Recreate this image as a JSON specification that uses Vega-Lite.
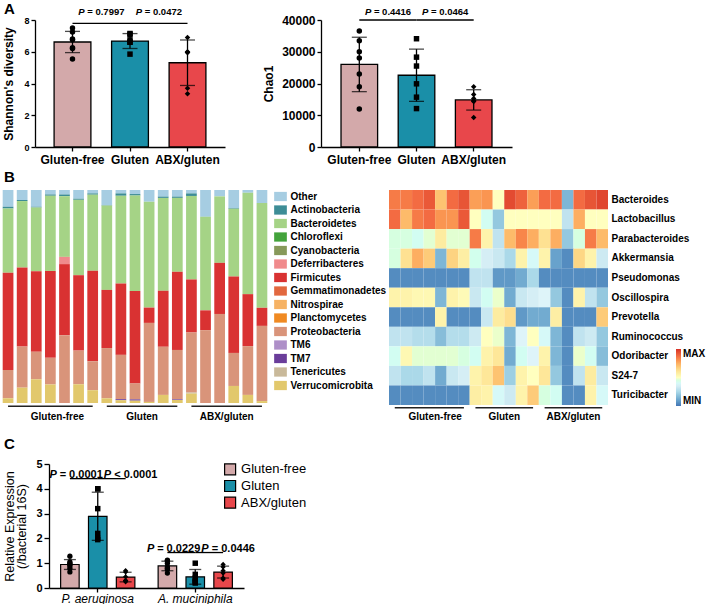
{
"$schema": "https://vega.github.io/schema/vega-lite/v6.json",
"background": "white",
"padding": {"left": 1, "top": 2, "right": 0, "bottom": 0},
"config": {
  "font": "Liberation Sans",
  "view": {"stroke": null},
  "axis": {"grid": false, "domainColor": "#000", "domainWidth": 1.3, "tickColor": "#000", "tickWidth": 1.3, "labelColor": "#000", "titleColor": "#000", "labelFontWeight": "bold", "titleFontWeight": "bold", "labelOverlap": false},
  "legend": {"labelColor": "#000"},
  "title": {"fontSize": 15, "fontWeight": "bold", "anchor": "start", "color": "#000", "frame": "bounds"},
  "text": {"color": "#000"}
},
"datasets": {
  "shannon": [
    {"group": "Gluten-free", "value": 7.5}, {"group": "Gluten-free", "value": 7.25}, {"group": "Gluten-free", "value": 6.8}, {"group": "Gluten-free", "value": 6.75}, {"group": "Gluten-free", "value": 6.25}, {"group": "Gluten-free", "value": 6.2}, {"group": "Gluten-free", "value": 5.55},
    {"group": "Gluten", "value": 7.15}, {"group": "Gluten", "value": 7.1}, {"group": "Gluten", "value": 6.75}, {"group": "Gluten", "value": 6.6}, {"group": "Gluten", "value": 6.6}, {"group": "Gluten", "value": 5.85},
    {"group": "ABX/gluten", "value": 6.9}, {"group": "ABX/gluten", "value": 6.0}, {"group": "ABX/gluten", "value": 5.95}, {"group": "ABX/gluten", "value": 5.95}, {"group": "ABX/gluten", "value": 3.7}, {"group": "ABX/gluten", "value": 3.35}
  ],
  "chao": [
    {"group": "Gluten-free", "value": 36500}, {"group": "Gluten-free", "value": 33500}, {"group": "Gluten-free", "value": 30000}, {"group": "Gluten-free", "value": 28000}, {"group": "Gluten-free", "value": 23000}, {"group": "Gluten-free", "value": 19000}, {"group": "Gluten-free", "value": 12000},
    {"group": "Gluten", "value": 34100}, {"group": "Gluten", "value": 28300}, {"group": "Gluten", "value": 25500}, {"group": "Gluten", "value": 19900}, {"group": "Gluten", "value": 15700}, {"group": "Gluten", "value": 12100},
    {"group": "ABX/gluten", "value": 19000}, {"group": "ABX/gluten", "value": 16500}, {"group": "ABX/gluten", "value": 15300}, {"group": "ABX/gluten", "value": 14600}, {"group": "ABX/gluten", "value": 14300}, {"group": "ABX/gluten", "value": 9300}
  ],
  "pvals": [
    {"panel": "shannon", "g1": "Gluten-free", "g2": "Gluten", "label": "= 0.7997"},
    {"panel": "shannon", "g1": "Gluten", "g2": "ABX/gluten", "label": "= 0.0472"},
    {"panel": "chao", "g1": "Gluten-free", "g2": "Gluten", "label": "= 0.4416"},
    {"panel": "chao", "g1": "Gluten", "g2": "ABX/gluten", "label": "= 0.0464"}
  ],
  "groupsC": [{"group": "Gluten-free"}, {"group": "Gluten"}, {"group": "ABX/gluten"}],
  "phylumOrder": [
    {"phylum": "Other", "rank": 1}, {"phylum": "Actinobacteria", "rank": 2}, {"phylum": "Bacteroidetes", "rank": 3}, {"phylum": "Chloroflexi", "rank": 4}, {"phylum": "Cyanobacteria", "rank": 5}, {"phylum": "Deferribacteres", "rank": 6}, {"phylum": "Firmicutes", "rank": 7}, {"phylum": "Gemmatimonadetes", "rank": 8}, {"phylum": "Nitrospirae", "rank": 9}, {"phylum": "Planctomycetes", "rank": 10}, {"phylum": "Proteobacteria", "rank": 11}, {"phylum": "TM6", "rank": 12}, {"phylum": "TM7", "rank": 13}, {"phylum": "Tenericutes", "rank": 14}, {"phylum": "Verrucomicrobita", "rank": 15}
  ],
  "phyla": [
    {"s": "S01", "phylum": "Other", "v": 7.9}, {"s": "S01", "phylum": "Actinobacteria", "v": 0.8}, {"s": "S01", "phylum": "Bacteroidetes", "v": 30.1}, {"s": "S01", "phylum": "Firmicutes", "v": 45.7}, {"s": "S01", "phylum": "Proteobacteria", "v": 13.3}, {"s": "S01", "phylum": "Verrucomicrobita", "v": 2.2},
    {"s": "S02", "phylum": "Other", "v": 4.7}, {"s": "S02", "phylum": "Actinobacteria", "v": 0.5}, {"s": "S02", "phylum": "Bacteroidetes", "v": 31.2}, {"s": "S02", "phylum": "Firmicutes", "v": 37.1}, {"s": "S02", "phylum": "Proteobacteria", "v": 19.3}, {"s": "S02", "phylum": "Verrucomicrobita", "v": 7.2},
    {"s": "S03", "phylum": "Other", "v": 7.9}, {"s": "S03", "phylum": "Actinobacteria", "v": 0.3}, {"s": "S03", "phylum": "Bacteroidetes", "v": 29.9}, {"s": "S03", "phylum": "Firmicutes", "v": 37.8}, {"s": "S03", "phylum": "Proteobacteria", "v": 13.0}, {"s": "S03", "phylum": "Verrucomicrobita", "v": 11.1},
    {"s": "S04", "phylum": "Other", "v": 2.1}, {"s": "S04", "phylum": "Actinobacteria", "v": 0.6}, {"s": "S04", "phylum": "Bacteroidetes", "v": 35.3}, {"s": "S04", "phylum": "Firmicutes", "v": 40.8}, {"s": "S04", "phylum": "Proteobacteria", "v": 12.5}, {"s": "S04", "phylum": "Verrucomicrobita", "v": 8.7},
    {"s": "S05", "phylum": "Other", "v": 2.1}, {"s": "S05", "phylum": "Actinobacteria", "v": 0.8}, {"s": "S05", "phylum": "Bacteroidetes", "v": 28.5}, {"s": "S05", "phylum": "Deferribacteres", "v": 3.4}, {"s": "S05", "phylum": "Firmicutes", "v": 33.4}, {"s": "S05", "phylum": "Proteobacteria", "v": 31.8},
    {"s": "S06", "phylum": "Other", "v": 4.1}, {"s": "S06", "phylum": "Actinobacteria", "v": 0.5}, {"s": "S06", "phylum": "Bacteroidetes", "v": 35.4}, {"s": "S06", "phylum": "Firmicutes", "v": 35.4}, {"s": "S06", "phylum": "Proteobacteria", "v": 15.8}, {"s": "S06", "phylum": "Verrucomicrobita", "v": 8.8},
    {"s": "S07", "phylum": "Other", "v": 1.6}, {"s": "S07", "phylum": "Actinobacteria", "v": 0.6}, {"s": "S07", "phylum": "Bacteroidetes", "v": 35.7}, {"s": "S07", "phylum": "Firmicutes", "v": 42.5}, {"s": "S07", "phylum": "Proteobacteria", "v": 13.6}, {"s": "S07", "phylum": "Verrucomicrobita", "v": 6.0},
    {"s": "S08", "phylum": "Other", "v": 7.1}, {"s": "S08", "phylum": "Actinobacteria", "v": 0.2}, {"s": "S08", "phylum": "Bacteroidetes", "v": 39.6}, {"s": "S08", "phylum": "Firmicutes", "v": 27.3}, {"s": "S08", "phylum": "Proteobacteria", "v": 23.6}, {"s": "S08", "phylum": "Verrucomicrobita", "v": 2.2},
    {"s": "S09", "phylum": "Other", "v": 1.6}, {"s": "S09", "phylum": "Actinobacteria", "v": 1.1}, {"s": "S09", "phylum": "Bacteroidetes", "v": 41.2}, {"s": "S09", "phylum": "Firmicutes", "v": 33.5}, {"s": "S09", "phylum": "Proteobacteria", "v": 20.8}, {"s": "S09", "phylum": "TM7", "v": 0.5}, {"s": "S09", "phylum": "Verrucomicrobita", "v": 1.3},
    {"s": "S10", "phylum": "Other", "v": 1.9}, {"s": "S10", "phylum": "Actinobacteria", "v": 0.7}, {"s": "S10", "phylum": "Bacteroidetes", "v": 44.8}, {"s": "S10", "phylum": "Firmicutes", "v": 43.4}, {"s": "S10", "phylum": "Proteobacteria", "v": 7.5}, {"s": "S10", "phylum": "TM7", "v": 0.6}, {"s": "S10", "phylum": "Verrucomicrobita", "v": 1.1},
    {"s": "S11", "phylum": "Other", "v": 5.5}, {"s": "S11", "phylum": "Bacteroidetes", "v": 49.7}, {"s": "S11", "phylum": "Firmicutes", "v": 7.2}, {"s": "S11", "phylum": "Proteobacteria", "v": 37.1}, {"s": "S11", "phylum": "Verrucomicrobita", "v": 0.5},
    {"s": "S12", "phylum": "Other", "v": 3.1}, {"s": "S12", "phylum": "Actinobacteria", "v": 0.6}, {"s": "S12", "phylum": "Bacteroidetes", "v": 43.6}, {"s": "S12", "phylum": "Firmicutes", "v": 26.3}, {"s": "S12", "phylum": "Proteobacteria", "v": 22.6}, {"s": "S12", "phylum": "Verrucomicrobita", "v": 3.8},
    {"s": "S13", "phylum": "Other", "v": 3.1}, {"s": "S13", "phylum": "Actinobacteria", "v": 0.6}, {"s": "S13", "phylum": "Bacteroidetes", "v": 34.7}, {"s": "S13", "phylum": "Firmicutes", "v": 36.7}, {"s": "S13", "phylum": "Proteobacteria", "v": 23.2}, {"s": "S13", "phylum": "TM7", "v": 0.3}, {"s": "S13", "phylum": "Verrucomicrobita", "v": 1.4},
    {"s": "S14", "phylum": "Other", "v": 1.6}, {"s": "S14", "phylum": "Actinobacteria", "v": 1.2}, {"s": "S14", "phylum": "Bacteroidetes", "v": 39.2}, {"s": "S14", "phylum": "Firmicutes", "v": 24.9}, {"s": "S14", "phylum": "Proteobacteria", "v": 28.2}, {"s": "S14", "phylum": "Tenericutes", "v": 0.5}, {"s": "S14", "phylum": "Verrucomicrobita", "v": 4.4},
    {"s": "S15", "phylum": "Other", "v": 12.6}, {"s": "S15", "phylum": "Bacteroidetes", "v": 43.9}, {"s": "S15", "phylum": "Firmicutes", "v": 9.3}, {"s": "S15", "phylum": "Proteobacteria", "v": 34.2},
    {"s": "S16", "phylum": "Other", "v": 3.0}, {"s": "S16", "phylum": "Bacteroidetes", "v": 31.2}, {"s": "S16", "phylum": "Firmicutes", "v": 24.0}, {"s": "S16", "phylum": "Proteobacteria", "v": 41.8},
    {"s": "S17", "phylum": "Other", "v": 8.5}, {"s": "S17", "phylum": "Actinobacteria", "v": 0.3}, {"s": "S17", "phylum": "Bacteroidetes", "v": 31.8}, {"s": "S17", "phylum": "Firmicutes", "v": 35.9}, {"s": "S17", "phylum": "Proteobacteria", "v": 15.5}, {"s": "S17", "phylum": "Verrucomicrobita", "v": 8.0},
    {"s": "S18", "phylum": "Other", "v": 1.3}, {"s": "S18", "phylum": "Bacteroidetes", "v": 47.6}, {"s": "S18", "phylum": "Firmicutes", "v": 24.4}, {"s": "S18", "phylum": "Proteobacteria", "v": 22.9}, {"s": "S18", "phylum": "Verrucomicrobita", "v": 3.8},
    {"s": "S19", "phylum": "Other", "v": 6.1}, {"s": "S19", "phylum": "Bacteroidetes", "v": 49.2}, {"s": "S19", "phylum": "Firmicutes", "v": 8.5}, {"s": "S19", "phylum": "Proteobacteria", "v": 35.3}, {"s": "S19", "phylum": "Verrucomicrobita", "v": 0.9}
  ],
  "bgroups": [
    {"group": "Gluten-free", "first": "S01", "last": "S07", "mid": "S04"},
    {"group": "Gluten", "first": "S08", "last": "S13", "mid": "S10"},
    {"group": "ABX/gluten", "first": "S14", "last": "S19", "mid": "S16"}
  ],
  "heat": [
    {"g":"Bacteroides","s":"S01","z":0.85},{"g":"Bacteroides","s":"S02","z":0.85},{"g":"Bacteroides","s":"S03","z":0.88},{"g":"Bacteroides","s":"S04","z":0.92},{"g":"Bacteroides","s":"S05","z":0.70},{"g":"Bacteroides","s":"S06","z":0.88},{"g":"Bacteroides","s":"S07","z":0.93},{"g":"Bacteroides","s":"S08","z":0.78},{"g":"Bacteroides","s":"S09","z":0.80},{"g":"Bacteroides","s":"S10","z":0.50},{"g":"Bacteroides","s":"S11","z":0.95},{"g":"Bacteroides","s":"S12","z":0.90},{"g":"Bacteroides","s":"S13","z":0.78},{"g":"Bacteroides","s":"S14","z":0.88},{"g":"Bacteroides","s":"S15","z":0.88},{"g":"Bacteroides","s":"S16","z":0.15},{"g":"Bacteroides","s":"S17","z":0.88},{"g":"Bacteroides","s":"S18","z":0.93},{"g":"Bacteroides","s":"S19","z":0.96},
    {"g":"Lactobacillus","s":"S01","z":0.88},{"g":"Lactobacillus","s":"S02","z":0.72},{"g":"Lactobacillus","s":"S03","z":0.85},{"g":"Lactobacillus","s":"S04","z":0.88},{"g":"Lactobacillus","s":"S05","z":0.80},{"g":"Lactobacillus","s":"S06","z":0.80},{"g":"Lactobacillus","s":"S07","z":0.92},{"g":"Lactobacillus","s":"S08","z":0.50},{"g":"Lactobacillus","s":"S09","z":0.42},{"g":"Lactobacillus","s":"S10","z":0.20},{"g":"Lactobacillus","s":"S11","z":0.50},{"g":"Lactobacillus","s":"S12","z":0.50},{"g":"Lactobacillus","s":"S13","z":0.50},{"g":"Lactobacillus","s":"S14","z":0.50},{"g":"Lactobacillus","s":"S15","z":0.50},{"g":"Lactobacillus","s":"S16","z":0.30},{"g":"Lactobacillus","s":"S17","z":0.75},{"g":"Lactobacillus","s":"S18","z":0.50},{"g":"Lactobacillus","s":"S19","z":0.50},
    {"g":"Parabacteroides","s":"S01","z":0.45},{"g":"Parabacteroides","s":"S02","z":0.45},{"g":"Parabacteroides","s":"S03","z":0.42},{"g":"Parabacteroides","s":"S04","z":0.47},{"g":"Parabacteroides","s":"S05","z":0.58},{"g":"Parabacteroides","s":"S06","z":0.47},{"g":"Parabacteroides","s":"S07","z":0.47},{"g":"Parabacteroides","s":"S08","z":0.85},{"g":"Parabacteroides","s":"S09","z":0.55},{"g":"Parabacteroides","s":"S10","z":0.30},{"g":"Parabacteroides","s":"S11","z":0.72},{"g":"Parabacteroides","s":"S12","z":0.83},{"g":"Parabacteroides","s":"S13","z":0.75},{"g":"Parabacteroides","s":"S14","z":0.62},{"g":"Parabacteroides","s":"S15","z":0.75},{"g":"Parabacteroides","s":"S16","z":0.20},{"g":"Parabacteroides","s":"S17","z":0.45},{"g":"Parabacteroides","s":"S18","z":0.85},{"g":"Parabacteroides","s":"S19","z":0.72},
    {"g":"Akkermansia","s":"S01","z":0.45},{"g":"Akkermansia","s":"S02","z":0.62},{"g":"Akkermansia","s":"S03","z":0.75},{"g":"Akkermansia","s":"S04","z":0.68},{"g":"Akkermansia","s":"S05","z":0.15},{"g":"Akkermansia","s":"S06","z":0.66},{"g":"Akkermansia","s":"S07","z":0.57},{"g":"Akkermansia","s":"S08","z":0.43},{"g":"Akkermansia","s":"S09","z":0.35},{"g":"Akkermansia","s":"S10","z":0.32},{"g":"Akkermansia","s":"S11","z":0.25},{"g":"Akkermansia","s":"S12","z":0.55},{"g":"Akkermansia","s":"S13","z":0.40},{"g":"Akkermansia","s":"S14","z":0.55},{"g":"Akkermansia","s":"S15","z":0.10},{"g":"Akkermansia","s":"S16","z":0.05},{"g":"Akkermansia","s":"S17","z":0.65},{"g":"Akkermansia","s":"S18","z":0.55},{"g":"Akkermansia","s":"S19","z":0.33},
    {"g":"Pseudomonas","s":"S01","z":0.05},{"g":"Pseudomonas","s":"S02","z":0.05},{"g":"Pseudomonas","s":"S03","z":0.05},{"g":"Pseudomonas","s":"S04","z":0.05},{"g":"Pseudomonas","s":"S05","z":0.05},{"g":"Pseudomonas","s":"S06","z":0.05},{"g":"Pseudomonas","s":"S07","z":0.05},{"g":"Pseudomonas","s":"S08","z":0.30},{"g":"Pseudomonas","s":"S09","z":0.30},{"g":"Pseudomonas","s":"S10","z":0.08},{"g":"Pseudomonas","s":"S11","z":0.08},{"g":"Pseudomonas","s":"S12","z":0.12},{"g":"Pseudomonas","s":"S13","z":0.25},{"g":"Pseudomonas","s":"S14","z":0.05},{"g":"Pseudomonas","s":"S15","z":0.05},{"g":"Pseudomonas","s":"S16","z":0.05},{"g":"Pseudomonas","s":"S17","z":0.05},{"g":"Pseudomonas","s":"S18","z":0.05},{"g":"Pseudomonas","s":"S19","z":0.05},
    {"g":"Oscillospira","s":"S01","z":0.55},{"g":"Oscillospira","s":"S02","z":0.55},{"g":"Oscillospira","s":"S03","z":0.53},{"g":"Oscillospira","s":"S04","z":0.53},{"g":"Oscillospira","s":"S05","z":0.15},{"g":"Oscillospira","s":"S06","z":0.55},{"g":"Oscillospira","s":"S07","z":0.52},{"g":"Oscillospira","s":"S08","z":0.32},{"g":"Oscillospira","s":"S09","z":0.42},{"g":"Oscillospira","s":"S10","z":0.48},{"g":"Oscillospira","s":"S11","z":0.12},{"g":"Oscillospira","s":"S12","z":0.32},{"g":"Oscillospira","s":"S13","z":0.35},{"g":"Oscillospira","s":"S14","z":0.38},{"g":"Oscillospira","s":"S15","z":0.20},{"g":"Oscillospira","s":"S16","z":0.05},{"g":"Oscillospira","s":"S17","z":0.55},{"g":"Oscillospira","s":"S18","z":0.30},{"g":"Oscillospira","s":"S19","z":0.20},
    {"g":"Prevotella","s":"S01","z":0.05},{"g":"Prevotella","s":"S02","z":0.05},{"g":"Prevotella","s":"S03","z":0.05},{"g":"Prevotella","s":"S04","z":0.05},{"g":"Prevotella","s":"S05","z":0.55},{"g":"Prevotella","s":"S06","z":0.05},{"g":"Prevotella","s":"S07","z":0.05},{"g":"Prevotella","s":"S08","z":0.05},{"g":"Prevotella","s":"S09","z":0.32},{"g":"Prevotella","s":"S10","z":0.58},{"g":"Prevotella","s":"S11","z":0.63},{"g":"Prevotella","s":"S12","z":0.08},{"g":"Prevotella","s":"S13","z":0.12},{"g":"Prevotella","s":"S14","z":0.12},{"g":"Prevotella","s":"S15","z":0.57},{"g":"Prevotella","s":"S16","z":0.05},{"g":"Prevotella","s":"S17","z":0.05},{"g":"Prevotella","s":"S18","z":0.05},{"g":"Prevotella","s":"S19","z":0.68},
    {"g":"Ruminococcus","s":"S01","z":0.30},{"g":"Ruminococcus","s":"S02","z":0.30},{"g":"Ruminococcus","s":"S03","z":0.27},{"g":"Ruminococcus","s":"S04","z":0.27},{"g":"Ruminococcus","s":"S05","z":0.17},{"g":"Ruminococcus","s":"S06","z":0.27},{"g":"Ruminococcus","s":"S07","z":0.27},{"g":"Ruminococcus","s":"S08","z":0.33},{"g":"Ruminococcus","s":"S09","z":0.50},{"g":"Ruminococcus","s":"S10","z":0.48},{"g":"Ruminococcus","s":"S11","z":0.15},{"g":"Ruminococcus","s":"S12","z":0.38},{"g":"Ruminococcus","s":"S13","z":0.50},{"g":"Ruminococcus","s":"S14","z":0.40},{"g":"Ruminococcus","s":"S15","z":0.15},{"g":"Ruminococcus","s":"S16","z":0.05},{"g":"Ruminococcus","s":"S17","z":0.30},{"g":"Ruminococcus","s":"S18","z":0.33},{"g":"Ruminococcus","s":"S19","z":0.20},
    {"g":"Odoribacter","s":"S01","z":0.42},{"g":"Odoribacter","s":"S02","z":0.53},{"g":"Odoribacter","s":"S03","z":0.47},{"g":"Odoribacter","s":"S04","z":0.47},{"g":"Odoribacter","s":"S05","z":0.47},{"g":"Odoribacter","s":"S06","z":0.47},{"g":"Odoribacter","s":"S07","z":0.45},{"g":"Odoribacter","s":"S08","z":0.42},{"g":"Odoribacter","s":"S09","z":0.55},{"g":"Odoribacter","s":"S10","z":0.60},{"g":"Odoribacter","s":"S11","z":0.12},{"g":"Odoribacter","s":"S12","z":0.42},{"g":"Odoribacter","s":"S13","z":0.38},{"g":"Odoribacter","s":"S14","z":0.55},{"g":"Odoribacter","s":"S15","z":0.15},{"g":"Odoribacter","s":"S16","z":0.05},{"g":"Odoribacter","s":"S17","z":0.48},{"g":"Odoribacter","s":"S18","z":0.42},{"g":"Odoribacter","s":"S19","z":0.17},
    {"g":"S24-7","s":"S01","z":0.30},{"g":"S24-7","s":"S02","z":0.25},{"g":"S24-7","s":"S03","z":0.25},{"g":"S24-7","s":"S04","z":0.30},{"g":"S24-7","s":"S05","z":0.12},{"g":"S24-7","s":"S06","z":0.32},{"g":"S24-7","s":"S07","z":0.35},{"g":"S24-7","s":"S08","z":0.55},{"g":"S24-7","s":"S09","z":0.60},{"g":"S24-7","s":"S10","z":0.70},{"g":"S24-7","s":"S11","z":0.22},{"g":"S24-7","s":"S12","z":0.55},{"g":"S24-7","s":"S13","z":0.50},{"g":"S24-7","s":"S14","z":0.60},{"g":"S24-7","s":"S15","z":0.20},{"g":"S24-7","s":"S16","z":0.05},{"g":"S24-7","s":"S17","z":0.30},{"g":"S24-7","s":"S18","z":0.58},{"g":"S24-7","s":"S19","z":0.32},
    {"g":"Turicibacter","s":"S01","z":0.05},{"g":"Turicibacter","s":"S02","z":0.05},{"g":"Turicibacter","s":"S03","z":0.05},{"g":"Turicibacter","s":"S04","z":0.05},{"g":"Turicibacter","s":"S05","z":0.05},{"g":"Turicibacter","s":"S06","z":0.05},{"g":"Turicibacter","s":"S07","z":0.05},{"g":"Turicibacter","s":"S08","z":0.57},{"g":"Turicibacter","s":"S09","z":0.55},{"g":"Turicibacter","s":"S10","z":0.40},{"g":"Turicibacter","s":"S11","z":0.33},{"g":"Turicibacter","s":"S12","z":0.55},{"g":"Turicibacter","s":"S13","z":0.68},{"g":"Turicibacter","s":"S14","z":0.45},{"g":"Turicibacter","s":"S15","z":0.42},{"g":"Turicibacter","s":"S16","z":0.05},{"g":"Turicibacter","s":"S17","z":0.05},{"g":"Turicibacter","s":"S18","z":0.55},{"g":"Turicibacter","s":"S19","z":0.40}
  ],
  "qpcr": [
    {"gene": "P. aeruginosa", "group": "Gluten-free", "cat": "Pa-GF", "value": 1.28}, {"gene": "P. aeruginosa", "group": "Gluten-free", "cat": "Pa-GF", "value": 1.05}, {"gene": "P. aeruginosa", "group": "Gluten-free", "cat": "Pa-GF", "value": 1.0}, {"gene": "P. aeruginosa", "group": "Gluten-free", "cat": "Pa-GF", "value": 0.95}, {"gene": "P. aeruginosa", "group": "Gluten-free", "cat": "Pa-GF", "value": 0.9}, {"gene": "P. aeruginosa", "group": "Gluten-free", "cat": "Pa-GF", "value": 0.8}, {"gene": "P. aeruginosa", "group": "Gluten-free", "cat": "Pa-GF", "value": 0.65},
    {"gene": "P. aeruginosa", "group": "Gluten", "cat": "Pa-G", "value": 4.0}, {"gene": "P. aeruginosa", "group": "Gluten", "cat": "Pa-G", "value": 4.0}, {"gene": "P. aeruginosa", "group": "Gluten", "cat": "Pa-G", "value": 3.2}, {"gene": "P. aeruginosa", "group": "Gluten", "cat": "Pa-G", "value": 2.2}, {"gene": "P. aeruginosa", "group": "Gluten", "cat": "Pa-G", "value": 2.0}, {"gene": "P. aeruginosa", "group": "Gluten", "cat": "Pa-G", "value": 1.95},
    {"gene": "P. aeruginosa", "group": "ABX/gluten", "cat": "Pa-A", "value": 0.7}, {"gene": "P. aeruginosa", "group": "ABX/gluten", "cat": "Pa-A", "value": 0.65}, {"gene": "P. aeruginosa", "group": "ABX/gluten", "cat": "Pa-A", "value": 0.45}, {"gene": "P. aeruginosa", "group": "ABX/gluten", "cat": "Pa-A", "value": 0.3}, {"gene": "P. aeruginosa", "group": "ABX/gluten", "cat": "Pa-A", "value": 0.3}, {"gene": "P. aeruginosa", "group": "ABX/gluten", "cat": "Pa-A", "value": 0.25},
    {"gene": "A. muciniphila", "group": "Gluten-free", "cat": "Am-GF", "value": 1.12}, {"gene": "A. muciniphila", "group": "Gluten-free", "cat": "Am-GF", "value": 1.1}, {"gene": "A. muciniphila", "group": "Gluten-free", "cat": "Am-GF", "value": 1.0}, {"gene": "A. muciniphila", "group": "Gluten-free", "cat": "Am-GF", "value": 0.85}, {"gene": "A. muciniphila", "group": "Gluten-free", "cat": "Am-GF", "value": 0.8}, {"gene": "A. muciniphila", "group": "Gluten-free", "cat": "Am-GF", "value": 0.75}, {"gene": "A. muciniphila", "group": "Gluten-free", "cat": "Am-GF", "value": 0.6},
    {"gene": "A. muciniphila", "group": "Gluten", "cat": "Am-G", "value": 1.0}, {"gene": "A. muciniphila", "group": "Gluten", "cat": "Am-G", "value": 0.55}, {"gene": "A. muciniphila", "group": "Gluten", "cat": "Am-G", "value": 0.4}, {"gene": "A. muciniphila", "group": "Gluten", "cat": "Am-G", "value": 0.3}, {"gene": "A. muciniphila", "group": "Gluten", "cat": "Am-G", "value": 0.25}, {"gene": "A. muciniphila", "group": "Gluten", "cat": "Am-G", "value": 0.2},
    {"gene": "A. muciniphila", "group": "ABX/gluten", "cat": "Am-A", "value": 0.95}, {"gene": "A. muciniphila", "group": "ABX/gluten", "cat": "Am-A", "value": 0.85}, {"gene": "A. muciniphila", "group": "ABX/gluten", "cat": "Am-A", "value": 0.7}, {"gene": "A. muciniphila", "group": "ABX/gluten", "cat": "Am-A", "value": 0.6}, {"gene": "A. muciniphila", "group": "ABX/gluten", "cat": "Am-A", "value": 0.4}, {"gene": "A. muciniphila", "group": "ABX/gluten", "cat": "Am-A", "value": 0.35}
  ],
  "pC": [
    {"c1": "Pa-GF", "c2": "Pa-G", "cm": "Pa-G", "side": "L", "h": 4.41, "label": "= 0.0001"},
    {"c1": "Pa-G", "c2": "Pa-A", "cm": "Pa-G", "side": "R", "h": 4.41, "label": "< 0.0001"},
    {"c1": "Am-GF", "c2": "Am-G", "cm": "Am-G", "side": "L", "h": 1.43, "label": "= 0.0229"},
    {"c1": "Am-G", "c2": "Am-A", "cm": "Am-G", "side": "R", "h": 1.43, "label": "= 0.0446"}
  ]
},
"spacing": 14,
"vconcat": [
  {"spacing": 4, "vconcat": [
    {"title": {"text": "A", "offset": -10, "dx": 3}, "spacing": 0, "hconcat": [
      {"width": 1, "height": 10, "data": {"values": []}, "mark": "point", "encoding": {}},
      {"spacing": 37, "hconcat": [
      {"width": 190, "height": 127, "layer": [
        {"data": {"name": "shannon"}, "mark": {"type": "bar", "width": {"band": 0.64}, "stroke": "#000", "strokeWidth": 1.3},
         "encoding": {
          "x": {"field": "group", "type": "nominal", "title": null, "scale": {"domain": ["Gluten-free", "Gluten", "ABX/gluten"], "paddingInner": 0, "paddingOuter": 0.152}, "axis": {"labelAngle": 0, "labelFontSize": 12, "tickSize": 4, "labelPadding": 3}},
          "y": {"aggregate": "mean", "field": "value", "type": "quantitative", "title": "Shannon's diversity", "scale": {"domain": [0, 8], "nice": false}, "axis": {"tickCount": 4, "labelOverlap": false, "labelFontSize": 9, "titleFontSize": 12, "tickSize": 4, "labelPadding": 2, "titlePadding": 8}},
          "fill": {"field": "group", "type": "nominal", "scale": {"domain": ["Gluten-free", "Gluten", "ABX/gluten"], "range": ["#d3a9aa", "#1a8fa8", "#e8474b"]}, "legend": null}
         }},
        {"data": {"name": "shannon"}, "mark": {"type": "errorbar", "extent": "stdev", "ticks": true, "size": 15, "thickness": 1.3, "color": "#000"},
         "encoding": {
          "x": {"field": "group", "type": "nominal", "title": null, "scale": {"domain": ["Gluten-free", "Gluten", "ABX/gluten"]}},
          "y": {"field": "value", "type": "quantitative", "title": "Shannon's diversity"}
         }},
        {"data": {"name": "shannon"}, "mark": {"type": "point", "filled": true, "color": "#000", "size": 30, "opacity": 1},
         "encoding": {
          "x": {"field": "group", "type": "nominal", "title": null, "scale": {"domain": ["Gluten-free", "Gluten", "ABX/gluten"]}},
          "y": {"field": "value", "type": "quantitative", "title": "Shannon's diversity"},
          "shape": {"field": "group", "type": "nominal", "scale": {"domain": ["Gluten-free", "Gluten", "ABX/gluten"], "range": ["circle", "square", "diamond"]}, "legend": null}
         }},
        {"data": {"name": "pvals"}, "transform": [{"filter": "datum.panel == 'shannon'"}], "mark": {"type": "rule", "color": "#000", "strokeWidth": 1.3},
         "encoding": {"x": {"field": "g1", "type": "nominal", "title": null, "scale": {"domain": ["Gluten-free", "Gluten", "ABX/gluten"]}}, "x2": {"field": "g2"}, "y": {"datum": 7.79}}},
        {"data": {"name": "pvals"}, "transform": [{"filter": "datum.panel == 'shannon'"}], "mark": {"type": "text", "text": "P", "fontStyle": "italic", "fontWeight": "bold", "fontSize": 9.5, "align": "left", "baseline": "bottom", "dx": -23, "dy": -6.3},
         "encoding": {"x": {"field": "g1", "type": "nominal", "title": null, "bandPosition": 1, "scale": {"domain": ["Gluten-free", "Gluten", "ABX/gluten"]}}, "y": {"datum": 7.79}}},
        {"data": {"name": "pvals"}, "transform": [{"filter": "datum.panel == 'shannon'"}], "mark": {"type": "text", "fontWeight": "bold", "fontSize": 9.5, "align": "left", "baseline": "bottom", "dx": -14, "dy": -6.3},
         "encoding": {"x": {"field": "g1", "type": "nominal", "title": null, "bandPosition": 1, "scale": {"domain": ["Gluten-free", "Gluten", "ABX/gluten"]}}, "y": {"datum": 7.79}, "text": {"field": "label"}}}
      ]},
      {"width": 191, "height": 127, "layer": [
        {"data": {"name": "chao"}, "mark": {"type": "bar", "width": {"band": 0.64}, "stroke": "#000", "strokeWidth": 1.3},
         "encoding": {
          "x": {"field": "group", "type": "nominal", "title": null, "scale": {"domain": ["Gluten-free", "Gluten", "ABX/gluten"], "paddingInner": 0, "paddingOuter": 0.17}, "axis": {"labelAngle": 0, "labelFontSize": 12, "tickSize": 4, "labelPadding": 3}},
          "y": {"aggregate": "mean", "field": "value", "type": "quantitative", "title": "Chao1", "scale": {"domain": [0, 40000], "nice": false}, "axis": {"tickCount": 4, "labelOverlap": false, "format": "d", "labelFontSize": 12, "titleFontSize": 12, "tickSize": 4, "labelPadding": 2, "titlePadding": 6}},
          "fill": {"field": "group", "type": "nominal", "scale": {"domain": ["Gluten-free", "Gluten", "ABX/gluten"], "range": ["#d3a9aa", "#1a8fa8", "#e8474b"]}, "legend": null}
         }},
        {"data": {"name": "chao"}, "mark": {"type": "errorbar", "extent": "stdev", "ticks": true, "size": 15, "thickness": 1.3, "color": "#000"},
         "encoding": {
          "x": {"field": "group", "type": "nominal", "title": null, "scale": {"domain": ["Gluten-free", "Gluten", "ABX/gluten"]}},
          "y": {"field": "value", "type": "quantitative", "title": "Chao1"}
         }},
        {"data": {"name": "chao"}, "mark": {"type": "point", "filled": true, "color": "#000", "size": 30, "opacity": 1},
         "encoding": {
          "x": {"field": "group", "type": "nominal", "title": null, "scale": {"domain": ["Gluten-free", "Gluten", "ABX/gluten"]}},
          "y": {"field": "value", "type": "quantitative", "title": "Chao1"},
          "shape": {"field": "group", "type": "nominal", "scale": {"domain": ["Gluten-free", "Gluten", "ABX/gluten"], "range": ["circle", "square", "diamond"]}, "legend": null}
         }},
        {"data": {"name": "pvals"}, "transform": [{"filter": "datum.panel == 'chao'"}], "mark": {"type": "rule", "color": "#000", "strokeWidth": 1.3},
         "encoding": {"x": {"field": "g1", "type": "nominal", "title": null, "scale": {"domain": ["Gluten-free", "Gluten", "ABX/gluten"]}}, "x2": {"field": "g2"}, "y": {"datum": 40000}}},
        {"data": {"name": "pvals"}, "transform": [{"filter": "datum.panel == 'chao'"}], "mark": {"type": "text", "text": "P", "fontStyle": "italic", "fontWeight": "bold", "fontSize": 9.5, "align": "left", "baseline": "bottom", "dx": -23, "dy": -3},
         "encoding": {"x": {"field": "g1", "type": "nominal", "title": null, "bandPosition": 1, "scale": {"domain": ["Gluten-free", "Gluten", "ABX/gluten"]}}, "y": {"datum": 40000}}},
        {"data": {"name": "pvals"}, "transform": [{"filter": "datum.panel == 'chao'"}], "mark": {"type": "text", "fontWeight": "bold", "fontSize": 9.5, "align": "left", "baseline": "bottom", "dx": -14, "dy": -3},
         "encoding": {"x": {"field": "g1", "type": "nominal", "title": null, "bandPosition": 1, "scale": {"domain": ["Gluten-free", "Gluten", "ABX/gluten"]}}, "y": {"datum": 40000}, "text": {"field": "label"}}}
      ]}
      ]}
    ]},
    {"title": {"text": "B", "offset": 5, "dx": 3}, "spacing": 2, "hconcat": [
      {"width": 268, "height": 213, "layer": [
        {"data": {"name": "phyla"},
         "transform": [{"lookup": "phylum", "from": {"data": {"name": "phylumOrder"}, "key": "phylum", "fields": ["rank"]}}],
         "mark": {"type": "bar", "width": {"band": 0.76}},
         "encoding": {
          "x": {"field": "s", "type": "nominal", "title": null, "scale": {"domain": ["S01","S02","S03","S04","S05","S06","S07","S08","S09","S10","S11","S12","S13","S14","S15","S16","S17","S18","S19"], "paddingInner": 0, "paddingOuter": 0}, "axis": null},
          "y": {"field": "v", "type": "quantitative", "stack": "normalize", "title": null, "scale": {"domain": [0, 1], "nice": false}, "axis": null},
          "color": {"field": "phylum", "type": "nominal", "title": null,
            "scale": {"domain": ["Other","Actinobacteria","Bacteroidetes","Chloroflexi","Cyanobacteria","Deferribacteres","Firmicutes","Gemmatimonadetes","Nitrospirae","Planctomycetes","Proteobacteria","TM6","TM7","Tenericutes","Verrucomicrobita"],
                      "range": ["#a6cde2","#3d8d96","#a5d386","#43a33b","#87995a","#f08a8c","#d93232","#e2683f","#f6b264","#f08a22","#d9947a","#ae8fc8","#6a3d9a","#c9b99a","#e2c86c"]},
            "legend": {"orient": "right", "offset": 5, "symbolType": "M-1,-0.73H1V0.73H-1Z", "symbolSize": 161, "symbolStrokeWidth": 0, "labelFontSize": 10, "labelFontWeight": "bold", "labelOffset": 3.5, "rowPadding": 1.5, "labelLimit": 200, "padding": 0}},
          "order": {"field": "rank", "type": "quantitative", "sort": "descending"}
         }},
        {"data": {"name": "bgroups"}, "mark": {"type": "rule", "color": "#222", "strokeWidth": 1.5},
         "encoding": {"x": {"field": "first", "type": "nominal", "title": null, "scale": {"domain": ["S01","S02","S03","S04","S05","S06","S07","S08","S09","S10","S11","S12","S13","S14","S15","S16","S17","S18","S19"]}, "axis": null}, "x2": {"field": "last"}, "y": {"datum": -0.015}}},
        {"data": {"name": "bgroups"}, "mark": {"type": "text", "fontSize": 10, "fontWeight": "bold", "baseline": "middle"},
         "encoding": {"x": {"field": "mid", "type": "nominal", "title": null, "bandPosition": 1, "scale": {"domain": ["S01","S02","S03","S04","S05","S06","S07","S08","S09","S10","S11","S12","S13","S14","S15","S16","S17","S18","S19"]}, "axis": null}, "y": {"datum": -0.066}, "text": {"field": "group"}}}
      ]},
      {"width": 219, "height": 215, "layer": [
        {"data": {"name": "heat"}, "mark": {"type": "rect"},
         "encoding": {
          "x": {"field": "s", "type": "nominal", "title": null, "scale": {"domain": ["S01","S02","S03","S04","S05","S06","S07","S08","S09","S10","S11","S12","S13","S14","S15","S16","S17","S18","S19"], "paddingInner": 0, "paddingOuter": 0}, "axis": null},
          "y": {"field": "g", "type": "nominal", "title": null, "scale": {"domain": ["Bacteroides","Lactobacillus","Parabacteroides","Akkermansia","Pseudomonas","Oscillospira","Prevotella","Ruminococcus","Odoribacter","S24-7","Turicibacter"], "paddingInner": 0, "paddingOuter": 0}, "axis": {"orient": "right", "ticks": false, "domain": false, "labelFontSize": 10, "labelPadding": 3}},
          "color": {"field": "z", "type": "quantitative", "title": null, "scale": {"domain": [0, 0.125, 0.25, 0.375, 0.5, 0.625, 0.75, 0.875, 1], "range": ["#4575b4","#74add1","#abd9e9","#e0f3f8","#ffffbf","#fee090","#fdae61","#f46d43","#d73027"]},
            "legend": {"orient": "none", "legendX": 287, "legendY": 159, "direction": "vertical", "gradientLength": 57, "gradientThickness": 5, "values": [0, 1], "labelExpr": "datum.value > 0.5 ? 'MAX' : 'MIN'", "labelFontSize": 10, "labelFontWeight": "bold", "labelOffset": 2, "gradientStrokeWidth": 0, "padding": 0}}
         }},
        {"data": {"name": "bgroups"}, "mark": {"type": "rule", "color": "#222", "strokeWidth": 1.5, "yOffset": 12.5},
         "encoding": {"x": {"field": "first", "type": "nominal", "title": null, "scale": {"domain": ["S01","S02","S03","S04","S05","S06","S07","S08","S09","S10","S11","S12","S13","S14","S15","S16","S17","S18","S19"]}, "axis": null}, "x2": {"field": "last"}, "y": {"datum": "Turicibacter", "type": "nominal", "title": null}}},
        {"data": {"name": "bgroups"}, "mark": {"type": "text", "fontSize": 10, "fontWeight": "bold", "baseline": "middle", "yOffset": 21.8},
         "encoding": {"x": {"field": "mid", "type": "nominal", "title": null, "bandPosition": 1, "scale": {"domain": ["S01","S02","S03","S04","S05","S06","S07","S08","S09","S10","S11","S12","S13","S14","S15","S16","S17","S18","S19"]}, "axis": null}, "y": {"datum": "Turicibacter", "type": "nominal", "title": null}, "text": {"field": "group"}}}
      ]}
    ]}
  ]},
  {"title": {"text": "C", "offset": 6, "dx": 3}, "spacing": 0, "hconcat": [
    {"width": 2, "height": 10, "data": {"values": []}, "mark": "point", "encoding": {}},
    {"width": 195, "height": 124, "resolve": {"scale": {"y": "independent"}}, "layer": [
    {"layer": [
    {"data": {"name": "qpcr"}, "mark": {"type": "bar", "width": {"band": 1.33}, "stroke": "#000", "strokeWidth": 1.2},
     "encoding": {
      "x": {"field": "cat", "type": "nominal", "title": null, "scale": {"domain": ["Pa-GF","Pa-m1","Pa-G","Pa-m2","Pa-A","gap1","gap2","Am-GF","Am-m1","Am-G","Am-m2","Am-A"], "paddingInner": 0, "paddingOuter": 1.03},
            "axis": {"values": ["Pa-G", "Am-G"], "labelExpr": "datum.value == 'Pa-G' ? 'P. aeruginosa' : 'A. muciniphila'", "labelAngle": 0, "labelFontSize": 12, "labelFontStyle": "italic", "labelFontWeight": "normal", "tickSize": 4, "labelPadding": 1}},
      "y": {"aggregate": "mean", "field": "value", "type": "quantitative", "title": ["Relative Expression", "(/bacterial 16S)"], "scale": {"domain": [0, 5], "nice": false}, "axis": {"tickCount": 5, "labelOverlap": false, "labelFontSize": 11, "titleFontSize": 12.5, "titleFontWeight": "normal", "titleLineHeight": 12.5, "tickSize": 5, "labelPadding": 2, "titlePadding": 7}},
      "color": {"field": "group", "type": "nominal", "title": null, "scale": {"domain": ["Gluten-free", "Gluten", "ABX/gluten"], "range": ["#d3a9aa", "#1a8fa8", "#e8474b"]}, "legend": null}
     }},
    {"data": {"name": "qpcr"}, "mark": {"type": "errorbar", "extent": "stdev", "ticks": true, "size": 12, "thickness": 1.3, "color": "#000"},
     "encoding": {
      "x": {"field": "cat", "type": "nominal", "title": null, "scale": {"domain": ["Pa-GF","Pa-m1","Pa-G","Pa-m2","Pa-A","gap1","gap2","Am-GF","Am-m1","Am-G","Am-m2","Am-A"]}},
      "y": {"field": "value", "type": "quantitative", "title": ["Relative Expression", "(/bacterial 16S)"]}
     }},
    {"data": {"name": "qpcr"}, "transform": [{"filter": "datum.group == 'Gluten-free'"}], "mark": {"type": "point", "shape": "circle", "filled": true, "color": "#000", "size": 28, "opacity": 1},
     "encoding": {
      "x": {"field": "cat", "type": "nominal", "title": null, "scale": {"domain": ["Pa-GF","Pa-m1","Pa-G","Pa-m2","Pa-A","gap1","gap2","Am-GF","Am-m1","Am-G","Am-m2","Am-A"]}},
      "y": {"field": "value", "type": "quantitative", "title": ["Relative Expression", "(/bacterial 16S)"]}
     }},
    {"data": {"name": "qpcr"}, "transform": [{"filter": "datum.group == 'Gluten'"}], "mark": {"type": "point", "shape": "square", "filled": true, "color": "#000", "size": 30, "opacity": 1},
     "encoding": {
      "x": {"field": "cat", "type": "nominal", "title": null, "scale": {"domain": ["Pa-GF","Pa-m1","Pa-G","Pa-m2","Pa-A","gap1","gap2","Am-GF","Am-m1","Am-G","Am-m2","Am-A"]}},
      "y": {"field": "value", "type": "quantitative", "title": ["Relative Expression", "(/bacterial 16S)"]}
     }},
    {"data": {"name": "qpcr"}, "transform": [{"filter": "datum.group == 'ABX/gluten'"}], "mark": {"type": "point", "shape": "diamond", "filled": true, "color": "#000", "size": 28, "opacity": 1},
     "encoding": {
      "x": {"field": "cat", "type": "nominal", "title": null, "scale": {"domain": ["Pa-GF","Pa-m1","Pa-G","Pa-m2","Pa-A","gap1","gap2","Am-GF","Am-m1","Am-G","Am-m2","Am-A"]}},
      "y": {"field": "value", "type": "quantitative", "title": ["Relative Expression", "(/bacterial 16S)"]}
     }},
    {"data": {"name": "pC"}, "mark": {"type": "rule", "color": "#000", "strokeWidth": 1.3},
     "encoding": {
      "x": {"field": "c1", "type": "nominal", "title": null, "scale": {"domain": ["Pa-GF","Pa-m1","Pa-G","Pa-m2","Pa-A","gap1","gap2","Am-GF","Am-m1","Am-G","Am-m2","Am-A"]}},
      "x2": {"field": "c2"},
      "y": {"field": "h", "type": "quantitative", "title": ["Relative Expression", "(/bacterial 16S)"]}
     }},
    {"data": {"name": "pC"}, "transform": [{"filter": "datum.side == 'L'"}], "mark": {"type": "text", "text": "P", "fontStyle": "italic", "fontWeight": "bold", "fontSize": 11, "align": "right", "baseline": "alphabetic", "dx": -41, "dy": -1},
     "encoding": {
      "x": {"field": "cm", "type": "nominal", "title": null, "scale": {"domain": ["Pa-GF","Pa-m1","Pa-G","Pa-m2","Pa-A","gap1","gap2","Am-GF","Am-m1","Am-G","Am-m2","Am-A"]}},
      "y": {"field": "h", "type": "quantitative", "title": ["Relative Expression", "(/bacterial 16S)"]}
     }},
    {"data": {"name": "pC"}, "transform": [{"filter": "datum.side == 'L'"}], "mark": {"type": "text", "fontWeight": "bold", "fontSize": 11, "align": "right", "baseline": "alphabetic", "dx": 5, "dy": -1},
     "encoding": {
      "x": {"field": "cm", "type": "nominal", "title": null, "scale": {"domain": ["Pa-GF","Pa-m1","Pa-G","Pa-m2","Pa-A","gap1","gap2","Am-GF","Am-m1","Am-G","Am-m2","Am-A"]}},
      "y": {"field": "h", "type": "quantitative", "title": ["Relative Expression", "(/bacterial 16S)"]},
      "text": {"field": "label"}
     }},
    {"data": {"name": "pC"}, "transform": [{"filter": "datum.side == 'R'"}], "mark": {"type": "text", "text": "P", "fontStyle": "italic", "fontWeight": "bold", "fontSize": 11, "align": "left", "baseline": "alphabetic", "dx": 6, "dy": -1},
     "encoding": {
      "x": {"field": "cm", "type": "nominal", "title": null, "scale": {"domain": ["Pa-GF","Pa-m1","Pa-G","Pa-m2","Pa-A","gap1","gap2","Am-GF","Am-m1","Am-G","Am-m2","Am-A"]}},
      "y": {"field": "h", "type": "quantitative", "title": ["Relative Expression", "(/bacterial 16S)"]}
     }},
    {"data": {"name": "pC"}, "transform": [{"filter": "datum.side == 'R'"}], "mark": {"type": "text", "fontWeight": "bold", "fontSize": 11, "align": "left", "baseline": "alphabetic", "dx": 16.5, "dy": -1},
     "encoding": {
      "x": {"field": "cm", "type": "nominal", "title": null, "scale": {"domain": ["Pa-GF","Pa-m1","Pa-G","Pa-m2","Pa-A","gap1","gap2","Am-GF","Am-m1","Am-G","Am-m2","Am-A"]}},
      "y": {"field": "h", "type": "quantitative", "title": ["Relative Expression", "(/bacterial 16S)"]},
      "text": {"field": "label"}
     }}
    ]},
    {"data": {"name": "groupsC"}, "layer": [
      {"mark": {"type": "square", "size": 121, "stroke": "#000", "strokeWidth": 1.2, "opacity": 1, "xOffset": 7},
       "encoding": {
        "x": {"datum": "Am-A", "type": "nominal", "title": null, "scale": {"domain": ["Pa-GF","Pa-m1","Pa-G","Pa-m2","Pa-A","gap1","gap2","Am-GF","Am-m1","Am-G","Am-m2","Am-A"]}},
        "y": {"field": "group", "type": "nominal", "title": null, "scale": {"domain": ["Gluten-free", "Gluten", "ABX/gluten"], "range": [-3, 47], "paddingInner": 0, "paddingOuter": 0}, "axis": null},
        "fill": {"field": "group", "type": "nominal", "scale": {"domain": ["Gluten-free", "Gluten", "ABX/gluten"], "range": ["#d3a9aa", "#1a8fa8", "#e8474b"]}, "legend": null}
       }},
      {"mark": {"type": "text", "align": "left", "baseline": "middle", "dx": 18, "fontSize": 13},
       "encoding": {
        "x": {"datum": "Am-A", "type": "nominal", "title": null, "scale": {"domain": ["Pa-GF","Pa-m1","Pa-G","Pa-m2","Pa-A","gap1","gap2","Am-GF","Am-m1","Am-G","Am-m2","Am-A"]}},
        "y": {"field": "group", "type": "nominal", "title": null, "scale": {"domain": ["Gluten-free", "Gluten", "ABX/gluten"]}, "axis": null},
        "text": {"field": "group"}
       }}
    ]}
    ]}
  ]}
]
}
